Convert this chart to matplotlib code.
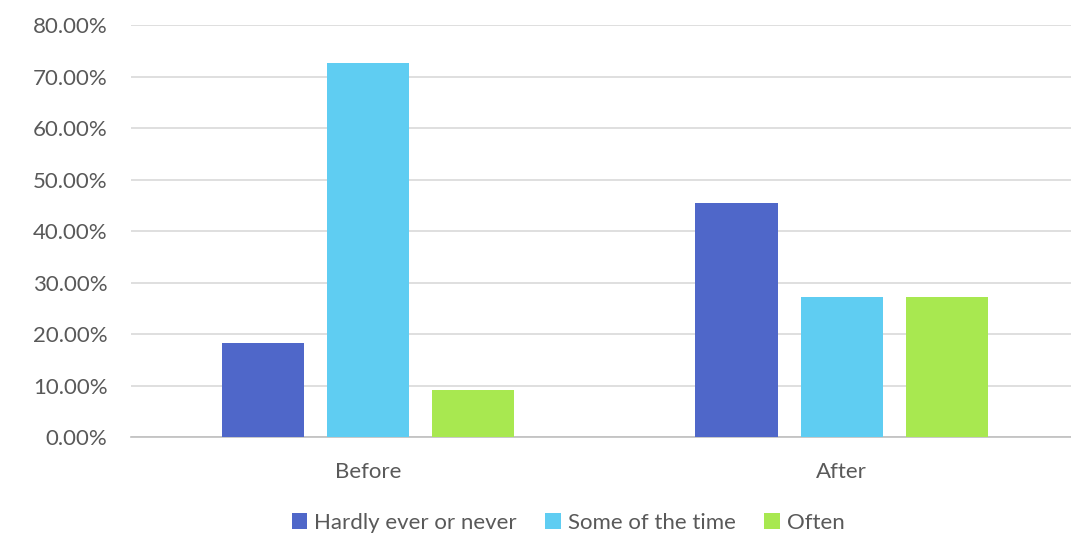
import matplotlib.pyplot as plt
import numpy as np
from matplotlib.ticker import PercentFormatter

plt.rcParams['font.family'] = ['Lato', 'DejaVu Sans']

categorias = ['Before', 'After']
series = ['Hardly ever or never', 'Some of the time', 'Often']
valores = {
    'Hardly ever or never': [0.1818, 0.4545],
    'Some of the time': [0.7273, 0.2727],
    'Often': [0.0909, 0.2727],
}
colores = ['#4F67C9', '#5FCDF2', '#A8E850']

fig = plt.figure(figsize=(10.71, 5.35), dpi=100)
ax = fig.add_axes([0.1223, 0.183, 0.885, 0.770])

x = np.arange(len(categorias))
ancho = 0.174
paso = 0.222
for i, s in enumerate(series):
    ax.bar(x + (i - 1) * paso, valores[s], ancho, color=colores[i], label=s, zorder=3)

ax.set_xlim(-0.5, 1.5)
ax.set_ylim(0, 0.8)
ax.set_yticks(np.arange(0, 0.81, 0.1))
ax.yaxis.set_major_formatter(PercentFormatter(1.0, decimals=2))
ax.set_xticks(x)
ax.set_xticklabels(categorias)
ax.grid(axis='y', color='#d9d9d9', linewidth=1.2, zorder=0)
for lado in ['top', 'right', 'left']:
    ax.spines[lado].set_visible(False)
ax.spines['bottom'].set_color('#bfbfbf')
ax.spines['bottom'].set_linewidth(1.2)
ax.tick_params(axis='both', length=0, labelsize=16, colors='#595959')
ax.tick_params(axis='y', pad=17)
ax.tick_params(axis='x', pad=18)

ax.legend(loc='center', bbox_to_anchor=(0.461, -0.208), ncol=3, frameon=False,
          fontsize=16, labelcolor='#595959', handlelength=0.7, handleheight=0.7,
          handletextpad=0.3, columnspacing=1.3)

fig.savefig('out.png', dpi=100)
